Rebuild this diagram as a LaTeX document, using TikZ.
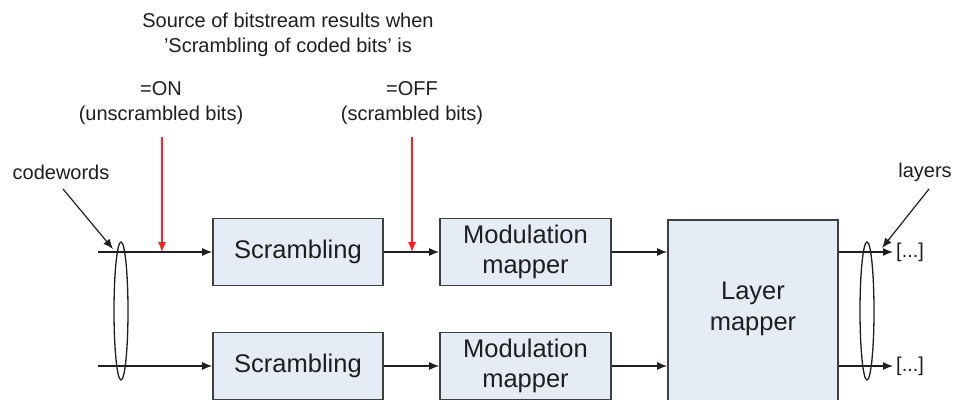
\documentclass[tikz,border=0pt]{standalone}
\usepackage{fontspec}
\setmainfont{Liberation Sans}
\usetikzlibrary{arrows.meta}
\definecolor{boxfill}{HTML}{E6ECF6}
\definecolor{boxline}{HTML}{404040}
\definecolor{ink}{HTML}{1E1E1E}
\definecolor{redarr}{HTML}{FF2020}
\tikzset{
  blk/.style={draw=boxline, line width=1.6pt, fill=boxfill, minimum width=170pt, minimum height=67pt, inner sep=0pt, align=center, font=\fontsize{25.5}{30}\selectfont, text=ink},
  conn/.style={draw=ink, line width=1.4pt, -{Latex[length=10pt,width=8pt]}},
  redconn/.style={draw=redarr, line width=1.2pt, -{Latex[length=10pt,width=8pt]}},
  ptr/.style={draw=ink, line width=1.2pt, -{Latex[length=10pt,width=8pt]}},
  small/.style={font=\fontsize{20}{25.5}\selectfont, text=ink, inner sep=0pt, align=center},
  loop/.style={draw=ink, line width=1.3pt}
}
\begin{document}
\begin{tikzpicture}[x=1pt,y=-1pt]
\useasboundingbox (0,0) rectangle (958,399);
\clip (0,0) rectangle (958,399);
\fill[white] (0,0) rectangle (958,399);

% boxes
\node[blk] (s1) at (298,252) {Scrambling};
\node[blk, minimum width=171pt] (m1) at (525.5,252) {Modulation\\mapper};
\node[blk] (s2) at (298,366) {Scrambling};
\node[blk, minimum width=171pt] (m2) at (525.5,366) {Modulation\\mapper};
\node[blk, minimum height=300pt] (L) at (753,370) {};
\node[font=\fontsize{25.5}{31}\selectfont, text=ink, align=center, inner sep=0pt] (Lt) at (753,309) {Layer\\mapper};

% inputs
\coordinate (in1) at (98,252);
\coordinate (in2) at (98,366);
\draw[conn] (in1) -- (s1.west);
\draw[conn] (in2) -- (s2.west);
\draw[conn] (s1.east) -- (m1.west);
\draw[conn] (s2.east) -- (m2.west);
\draw[conn] (m1.east) -- (m1.east -| L.west);
\draw[conn] (m2.east) -- (m2.east -| L.west);

% outputs
\coordinate (o1) at (893,252);
\coordinate (o2) at (893,366);
\draw[conn] (o1 -| L.east) -- (o1);
\draw[conn] (o2 -| L.east) -- (o2);
\node[small, anchor=west] (d1) at (896,252) {[...]};
\node[small, anchor=west] (d2) at (896,366) {[...]};

% grouping loops
\draw[loop] (121,311) ellipse [x radius=7pt, y radius=69pt];
\draw[loop] (867,311) ellipse [x radius=7pt, y radius=69pt];

% codewords / layers
\node[small] (cw) at (61,172) {codewords};
\coordinate (cwt) at (113,249);
\draw[ptr] (63,189) -- (cwt);
\node[small] (ly) at (925,172) {layers};
\coordinate (lyt) at (882,248);
\draw[ptr] (929,189) -- (lyt);

% top annotation
\node[small] (src) at (288,35) {Source of bitstream results when\\'Scrambling of coded bits' is};
\node[small] (on) at (161,103) {=ON\\(unscrambled bits)};
\node[small] (off) at (412,103) {=OFF\\(scrambled bits)};
\coordinate (r1) at (162,252);
\coordinate (r2) at (412,252);
\draw[redconn] (162,137) -- (r1);
\draw[redconn] (412,137) -- (r2);
\end{tikzpicture}
\end{document}
